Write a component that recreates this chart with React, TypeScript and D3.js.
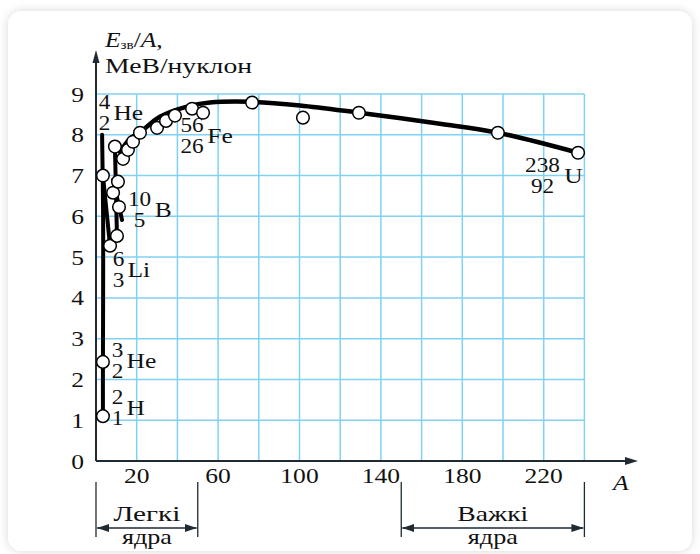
import React from "react";
import * as d3 from "d3";

// Binding energy per nucleon — measured points (A, E/A in MeV)
const pointA = [3.4, 3.4, 3.4, 6.9, 10.3, 8.4, 10.8, 11.3, 9.3, 13.3, 15.7, 18.2, 21.6, 30, 34.4, 38.8, 47.2, 52.6, 76.7, 101.7, 129.2, 197.5, 236.9];
const pointE = [1.1, 2.43, 7.0, 5.28, 5.52, 6.58, 6.85, 6.23, 7.71, 7.41, 7.63, 7.83, 8.05, 8.17, 8.34, 8.47, 8.64, 8.54, 8.79, 8.42, 8.54, 8.05, 7.56];

// Smooth main curve
const curveA = [11.8, 16.7, 23.1, 31.4, 44.7, 56, 75.7, 100.2, 129.2, 169, 197.5, 236.9];
const curveE = [7.58, 7.9, 8.12, 8.44, 8.69, 8.79, 8.81, 8.72, 8.54, 8.27, 8.05, 7.56];

// Light-nuclei hand-drawn branches
const branch1A = [3.0, 3.5, 3.5, 3.4, 3.4];
const branch1E = [8.0, 6.0, 4.0, 2.43, 1.1];
const branch2A = [3.4, 6.9];
const branch2E = [7.0, 5.28];
const branch3A = [9.3, 10.3];
const branch3E = [7.71, 5.52];
const branch4A = [8.4, 12.8];
const branch4E = [6.9, 5.91];

// Axis ticks
const xGrid = [20, 40, 60, 80, 100, 120, 140, 160, 180, 200, 220, 240];
const xTickLabels = [20, 60, 100, 140, 180, 220];
const yTicks = [0, 1, 2, 3, 4, 5, 6, 7, 8, 9];

// Nucleus labels
const nucMass = ["4", "56", "10", "6", "3", "2", "238"];
const nucZ = ["2", "26", "5", "3", "2", "1", "92"];
const nucSym = ["He", "Fe", "B", "Li", "He", "H", "U"];
const nucA = [4.2, 47.2, 21.4, 11.1, 10.6, 10.6, 219.4];
const nucE = [8.37, 7.8, 5.99, 4.52, 2.28, 1.13, 6.82];

// Ranges
const rangeTop = ["Легкі", "Важкі"];
const rangeBottom = ["ядра", "ядра"];
const rangeFrom = [0, 150];
const rangeTo = [50, 240];

const FONT = "Liberation Serif";
const SX = 1.16;

type TProps = {
  x: number;
  y: number;
  size: number;
  anchor?: "start" | "middle" | "end";
  italic?: boolean;
  len?: number;
  children: React.ReactNode;
};

function T({ x, y, size, anchor = "start", italic, len, children }: TProps) {
  if (len) {
    return (
      <text
        x={x}
        y={y}
        fontSize={size}
        textAnchor={anchor}
        fontStyle={italic ? "italic" : "normal"}
        textLength={len}
        lengthAdjust="spacingAndGlyphs"
        fill="#111"
      >
        {children}
      </text>
    );
  }
  return (
    <text
      transform={`translate(${x},${y}) scale(${SX},1)`}
      fontSize={size}
      textAnchor={anchor}
      fontStyle={italic ? "italic" : "normal"}
      fill="#111"
    >
      {children}
    </text>
  );
}

export default function App() {
  const x = d3.scaleLinear().domain([0, 240]).range([96, 584.4]);
  const y = d3.scaleLinear().domain([0, 9]).range([461, 94]);

  const pts = pointA.map((a, i) => [a, pointE[i]] as [number, number]);
  const mainPts = curveA.map((a, i) => [a, curveE[i]] as [number, number]);
  const br = [
    [branch1A, branch1E],
    [branch2A, branch2E],
    [branch3A, branch3E],
    [branch4A, branch4E],
  ].map(([as, es]) => as.map((a, i) => [a, es[i]] as [number, number]));

  const lineSmooth = d3
    .line<[number, number]>()
    .x((d) => x(d[0]))
    .y((d) => y(d[1]))
    .curve(d3.curveCatmullRom.alpha(0.5));

  const x0 = x(0);
  const y0 = y(0);
  const gridColor = "#7fd2f3";
  const axisColor = "#1f2a33";

  return (
    <svg
      width={700}
      height={554}
      style={{ position: "absolute", left: 0, top: 0, background: "#fff" }}
      fontFamily={FONT}
    >
      <defs>
        <filter id="sh" x="-5%" y="-5%" width="110%" height="110%">
          <feDropShadow dx="0" dy="0" stdDeviation="5" floodColor="#000" floodOpacity="0.16" />
        </filter>
        <marker id="arrL" viewBox="0 0 12 8" refX="0" refY="4" markerWidth="12" markerHeight="8" orient="auto" markerUnits="userSpaceOnUse">
          <path d="M12,0 L0,4 L12,8 Z" fill={axisColor} />
        </marker>
        <marker id="arrR" viewBox="0 0 12 8" refX="12" refY="4" markerWidth="12" markerHeight="8" orient="auto" markerUnits="userSpaceOnUse">
          <path d="M0,0 L12,4 L0,8 Z" fill={axisColor} />
        </marker>
      </defs>
      <rect x={8} y={11} width={684} height={540} rx={14} fill="#fff" filter="url(#sh)" />

      {/* grid */}
      <g stroke={gridColor} strokeWidth={1.5}>
        {xGrid.map((a) => (
          <line key={"gx" + a} x1={x(a)} x2={x(a)} y1={y(9)} y2={y0} />
        ))}
        {yTicks.filter((v) => v > 0).map((v) => (
          <line key={"gy" + v} x1={x0} x2={x(240)} y1={y(v)} y2={y(v)} />
        ))}
      </g>

      {/* axes */}
      <line x1={x0} y1={y0} x2={626} y2={y0} stroke={axisColor} strokeWidth={2} />
      <path d={`M638,${y0} L625,${y0 - 4} L625,${y0 + 4} Z`} fill={axisColor} />
      <line x1={x0} y1={y0} x2={x0} y2={62} stroke={axisColor} strokeWidth={2} />
      <path d={`M${x0},50 L${x0 - 3.5},63 L${x0 + 3.5},63 Z`} fill={axisColor} />

      {/* tick labels */}
      {yTicks.map((v) => (
        <T key={"ty" + v} x={84} y={y(v) + 7.5} size={22} anchor="end">
          {v}
        </T>
      ))}
      {xTickLabels.map((a) => (
        <T key={"tx" + a} x={x(a)} y={483} size={22} anchor="middle">
          {a}
        </T>
      ))}

      {/* axis titles */}
      <text transform={`translate(105,47) scale(${SX},1)`} fontSize={22} fill="#111">
        <tspan fontStyle="italic">E</tspan>
        <tspan fontSize={13} dy={2}>зв</tspan>
        <tspan dy={-2}>/</tspan>
        <tspan fontStyle="italic">A</tspan>
        <tspan>,</tspan>
      </text>
      <T x={105} y={73} size={22} len={147}>
        МеВ/нуклон
      </T>
      <T x={613} y={490} size={22} italic>
        A
      </T>

      {/* curves */}
      <g fill="none" stroke="#000" strokeLinecap="round" strokeLinejoin="round">
        <path d={lineSmooth(mainPts) || ""} strokeWidth={4.5} />
        {br.map((b, i) => (
          <path key={"br" + i} d={lineSmooth(b) || ""} strokeWidth={4} />
        ))}
      </g>

      {/* points */}
      <g fill="#fff" stroke="#000" strokeWidth={1.5}>
        {pts.map((p, i) => (
          <circle key={"p" + i} cx={x(p[0])} cy={y(p[1])} r={6.3} />
        ))}
      </g>

      {/* nucleus labels */}
      {nucSym.map((s, i) => {
        const cx = x(nucA[i]);
        const by = y(nucE[i]);
        const n = Math.max(nucMass[i].length, nucZ[i].length);
        return (
          <g key={"n" + i}>
            <T x={cx} y={by - 11} size={20} anchor="middle">
              {nucMass[i]}
            </T>
            <T x={cx} y={by + 10} size={20} anchor="middle">
              {nucZ[i]}
            </T>
            <T x={cx + n * 6.4 + 2.5} y={by} size={22}>
              {s}
            </T>
          </g>
        );
      })}

      {/* range brackets */}
      <g stroke={axisColor} strokeWidth={1.3} fill="none">
        {rangeFrom.map((a, i) => (
          <g key={"r" + i}>
            <line x1={x(a)} x2={x(a)} y1={482} y2={537} />
            <line x1={x(rangeTo[i])} x2={x(rangeTo[i])} y1={482} y2={537} />
            <line
              x1={x(a) + 1}
              x2={x(rangeTo[i]) - 1}
              y1={528}
              y2={528}
              markerStart="url(#arrL)"
              markerEnd="url(#arrR)"
            />
          </g>
        ))}
      </g>
      {rangeFrom.map((a, i) => {
        const cx = (x(a) + x(rangeTo[i])) / 2;
        return (
          <g key={"rt" + i}>
            <T x={cx} y={521} size={21} anchor="middle" len={i === 0 ? 67 : 71}>
              {rangeTop[i]}
            </T>
            <T x={cx} y={544} size={21} anchor="middle" len={50}>
              {rangeBottom[i]}
            </T>
          </g>
        );
      })}
    </svg>
  );
}
